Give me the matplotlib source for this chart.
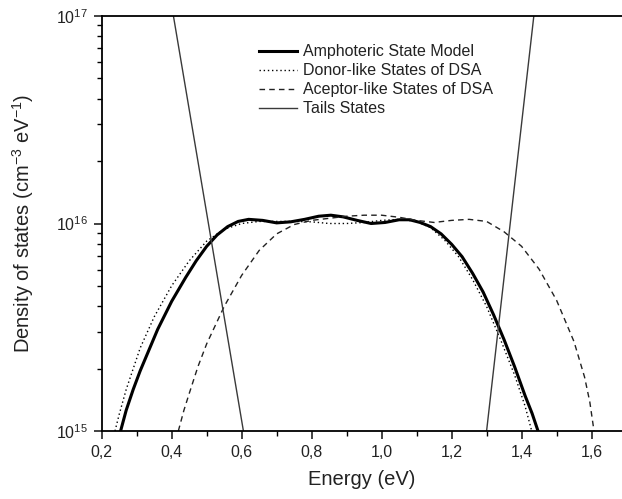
import math
import matplotlib
matplotlib.use("Agg")
import matplotlib.pyplot as plt
from matplotlib.ticker import LogLocator, FixedLocator, FuncFormatter, MultipleLocator, NullFormatter

plt.rcParams["font.family"] = ["Liberation Sans", "DejaVu Sans"]
plt.rcParams["mathtext.fontset"] = "custom"
plt.rcParams["mathtext.rm"] = "Liberation Sans"
plt.rcParams["mathtext.it"] = "Liberation Sans:italic"

# energy (eV) and log10 of density of states
amph_x = [0.254, 0.27, 0.29, 0.31, 0.33, 0.36, 0.40, 0.44, 0.47, 0.50, 0.53, 0.56, 0.59,
          0.62, 0.66, 0.70, 0.74, 0.78, 0.82, 0.855, 0.89, 0.93, 0.97, 1.01, 1.05,
          1.08, 1.11, 1.14, 1.17, 1.20, 1.23, 1.26, 1.29, 1.32, 1.35, 1.38, 1.41,
          1.43, 1.447]
amph_log = [15.0, 15.1, 15.2, 15.29, 15.37, 15.49, 15.625, 15.74, 15.82, 15.89, 15.945, 15.985, 16.01,
            16.02, 16.015, 16.003, 16.008, 16.02, 16.035, 16.04, 16.032, 16.015, 16.0, 16.005, 16.018,
            16.018, 16.005, 15.985, 15.95, 15.9, 15.84, 15.76, 15.67, 15.56, 15.44, 15.31, 15.17,
            15.085, 15.0]

donor_x = [0.238, 0.25, 0.27, 0.29, 0.31, 0.35, 0.40, 0.45, 0.50, 0.55, 0.60, 0.65, 0.70,
           0.75, 0.80, 0.85, 0.90, 0.95, 1.00, 1.05, 1.10, 1.14, 1.18, 1.22, 1.26, 1.30,
           1.34, 1.38, 1.41, 1.429]
donor_log = [15.0, 15.08, 15.2, 15.3, 15.4, 15.55, 15.70, 15.82, 15.915, 15.972, 16.0, 16.01, 16.01,
             16.01, 16.008, 16.0, 16.0, 16.005, 16.015, 16.02, 16.01, 15.98, 15.92, 15.84, 15.73, 15.6,
             15.44, 15.27, 15.12, 15.0]

accep_x = [0.419, 0.435, 0.45, 0.475, 0.50, 0.55, 0.60, 0.65, 0.70, 0.75, 0.80, 0.85, 0.90,
           0.95, 1.00, 1.05, 1.10, 1.15, 1.20, 1.25, 1.30, 1.35, 1.40, 1.45, 1.50, 1.55,
           1.58, 1.595, 1.607]
accep_log = [15.0, 15.1, 15.18, 15.31, 15.42, 15.60, 15.75, 15.87, 15.95, 15.995, 16.015, 16.025, 16.035,
             16.04, 16.04, 16.03, 16.015, 16.005, 16.015, 16.02, 16.01, 15.96, 15.89, 15.78, 15.63, 15.43,
             15.26, 15.14, 15.0]

tail_left_x = [0.405, 0.605]
tail_right_x = [1.30, 1.435]
tail_left_y = [1e17, 1e15]
tail_right_y = [1e15, 1e17]

labels = ["Amphoteric State Model", "Donor-like States of DSA",
          "Aceptor-like States of DSA", "Tails States"]

x_ticks = [0.2, 0.4, 0.6, 0.8, 1.0, 1.2, 1.4, 1.6]

W, H = 622, 499
fig = plt.figure(figsize=(W / 100, H / 100), dpi=100)
ax = fig.add_axes([101.7 / W, 1 - 431 / H, (W - 101.7) / W, (431 - 16) / H])

ax.plot(amph_x, [10 ** v for v in amph_log], color="black", lw=2.2, label=labels[0])
ax.plot(donor_x, [10 ** v for v in donor_log], color="black", lw=1.0, ls=(0, (1, 2)), label=labels[1])
ax.plot(accep_x, [10 ** v for v in accep_log], color="#222222", lw=1.0, ls=(0, (4, 3)), label=labels[2])
ax.plot(tail_left_x, tail_left_y, color="#3a3a3a", lw=1.0, label=labels[3])
ax.plot(tail_right_x, tail_right_y, color="#3a3a3a", lw=1.0)

ax.set_yscale("log")
ax.set_ylim(1e15, 1e17)
ax.set_xlim(0.2, 1.687)

ax.xaxis.set_major_locator(FixedLocator(x_ticks))
ax.xaxis.set_minor_locator(MultipleLocator(0.1))
ax.xaxis.set_major_formatter(FuncFormatter(lambda v, p: f"{v:.1f}".replace(".", ",")))
ax.yaxis.set_major_locator(FixedLocator([1e15, 1e16, 1e17]))
ax.yaxis.set_minor_locator(LogLocator(base=10, subs=range(2, 10)))
ax.yaxis.set_minor_formatter(NullFormatter())
ax.yaxis.set_major_formatter(FuncFormatter(lambda v, p: f"$10^{{{int(round(math.log10(v)))}}}$"))

ax.spines["right"].set_visible(False)
for s in ["left", "bottom", "top"]:
    ax.spines[s].set_linewidth(1.3)
ax.tick_params(which="major", direction="out", length=6, width=1.2, labelsize=11.5, pad=4, colors="#222222")
ax.tick_params(which="minor", direction="out", length=3.5, width=1.0)
ax.tick_params(axis="y", which="major", labelsize=11.5)

ax.set_xlabel("Energy (eV)", fontsize=14.5, color="#222222", labelpad=7)
ax.set_ylabel("Density of states (cm$^{-3}$ eV$^{-1}$)", fontsize=14.5, color="#222222", labelpad=14)

leg = ax.legend(loc="upper left", bbox_to_anchor=(0.29, 0.947), frameon=False, fontsize=11.5,
                handlelength=2.4, handletextpad=0.35, labelspacing=0.25, borderaxespad=0)
for t in leg.get_texts():
    t.set_color("#222222")

fig.savefig("out.png", dpi=100)
